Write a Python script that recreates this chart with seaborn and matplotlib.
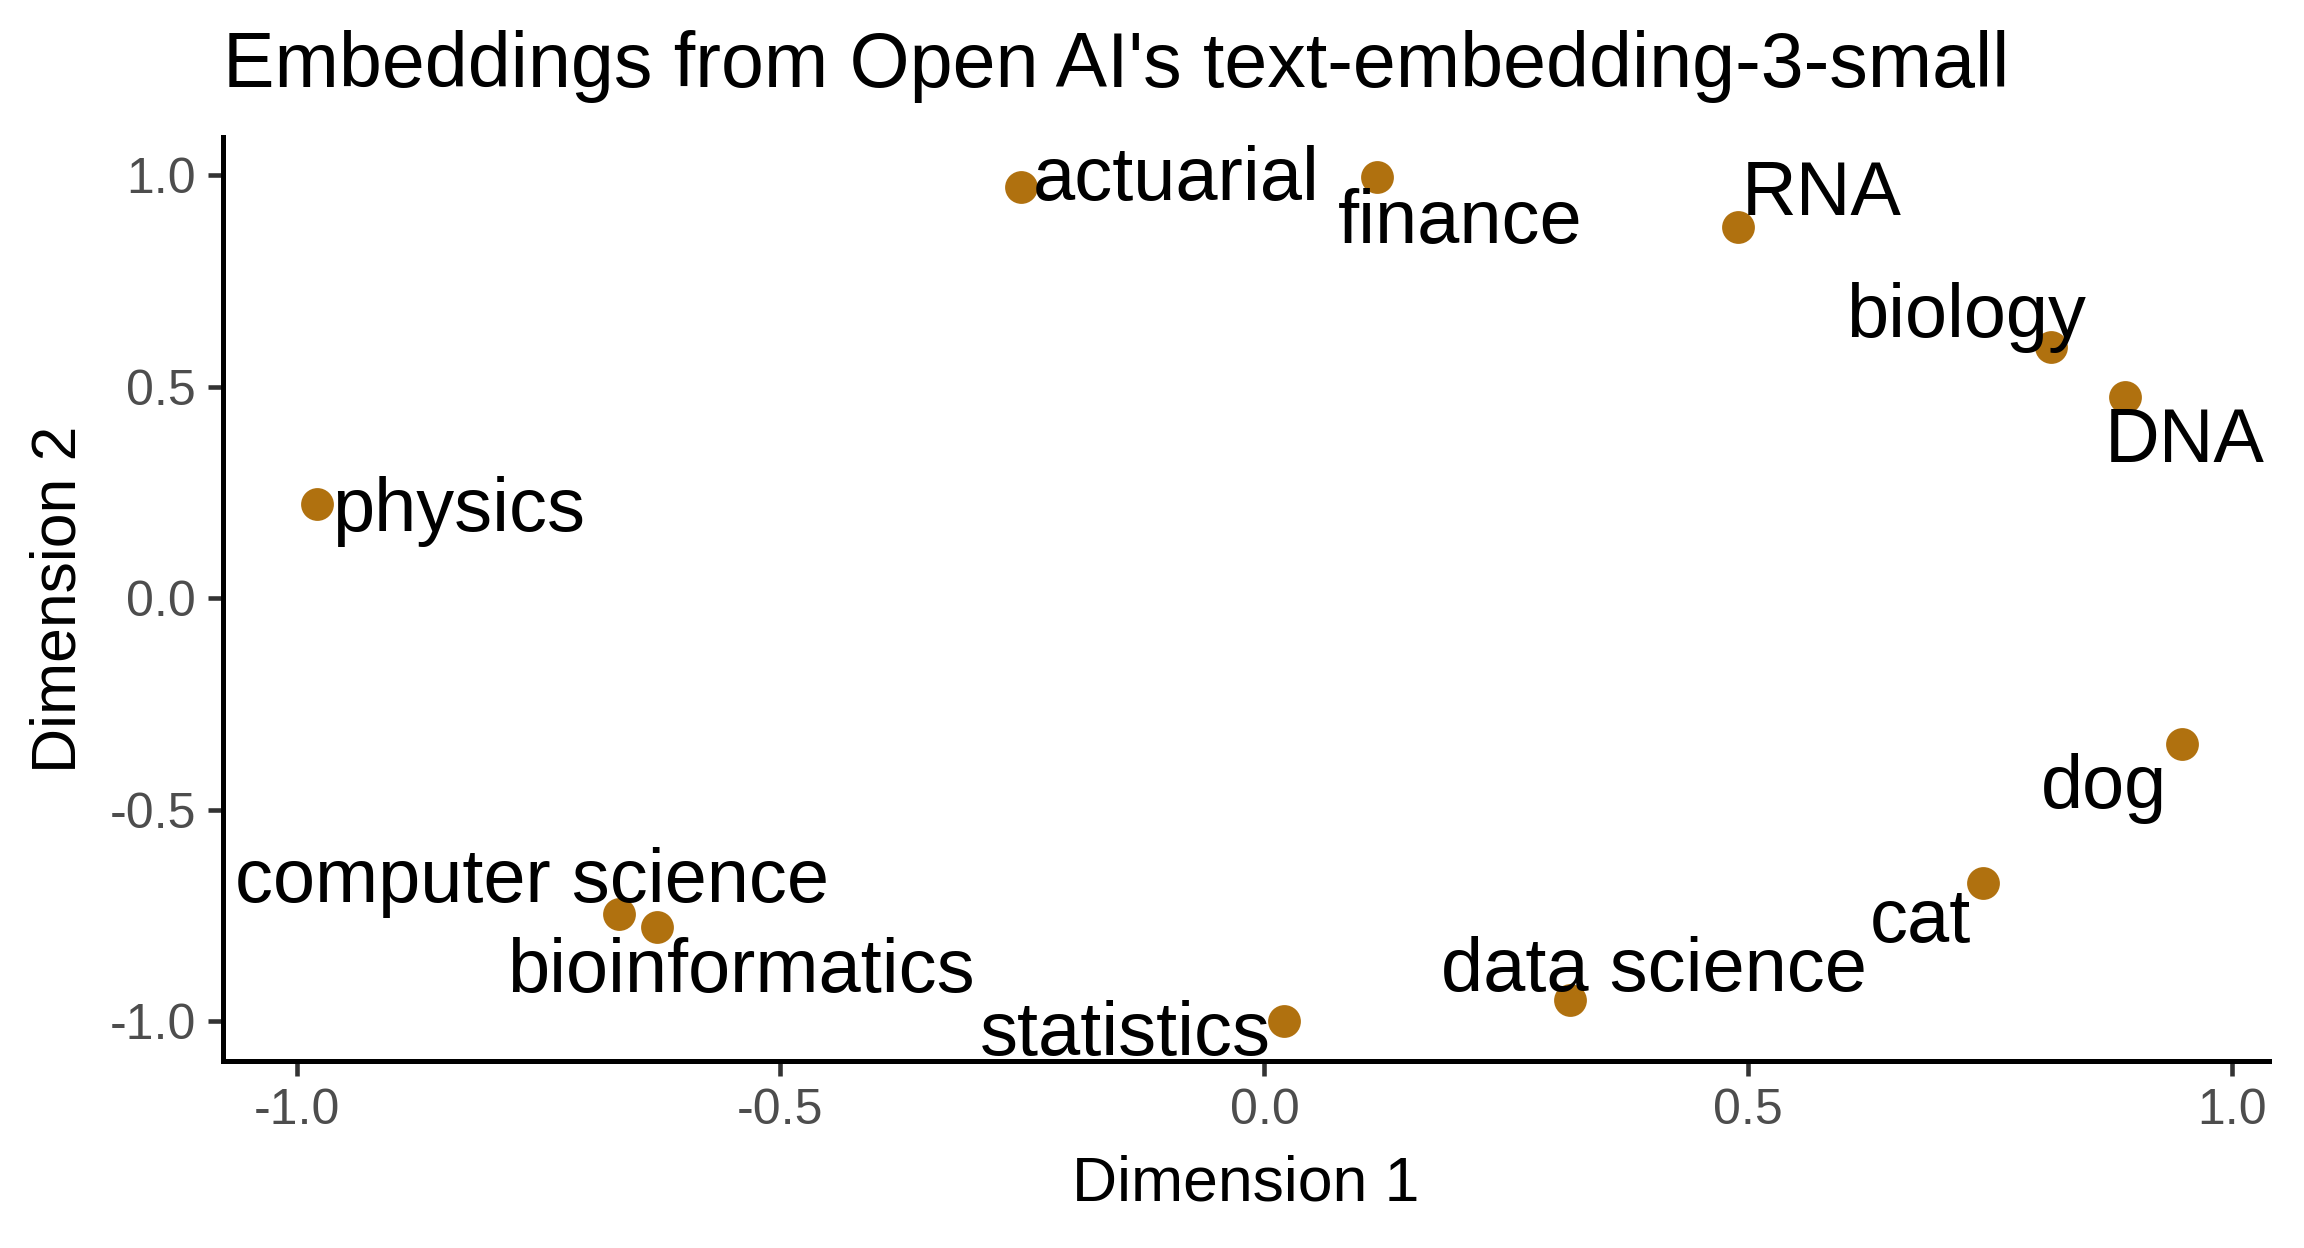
from matplotlib import pyplot as plt
import seaborn as sns
import pandas as pd

# 数据：
words = ["actuarial", "finance", "RNA", "biology", "DNA", "physics",
         "dog", "cat", "computer science", "bioinformatics", "statistics", "data science"]
dim1 = [-0.252, 0.116, 0.489, 0.813, 0.889, -0.979,
        0.948, 0.743, -0.667, -0.628, 0.020, 0.316]
dim2 = [0.972, 0.997, 0.878, 0.594, 0.476, 0.222,
        -0.344, -0.674, -0.747, -0.778, -1.000, -0.951]
x_ticks = [-1.0, -0.5, 0.0, 0.5, 1.0]
y_ticks = [-1.0, -0.5, 0.0, 0.5, 1.0]

df = pd.DataFrame({"word": words, "Dimension 1": dim1, "Dimension 2": dim2})

# 标签相对点的偏移（布局用）：
label_offsets = {
    "actuarial": (0.161, 0.015), "finance": (0.086, -0.111), "RNA": (0.087, 0.074),
    "biology": (-0.088, 0.070), "DNA": (0.062, -0.108), "physics": (0.146, -0.017),
    "dog": (-0.080, -0.105), "cat": (-0.065, -0.093), "computer science": (-0.090, 0.074),
    "bioinformatics": (0.087, -0.107), "statistics": (-0.164, -0.034), "data science": (0.087, 0.069),
}

sns.set_theme(style="white")
plt.rcParams['font.family'] = ['Liberation Sans', 'DejaVu Sans']

fig = plt.figure(figsize=(7.68, 4.16), dpi=300)
ax = fig.add_axes([0.0968, 0.150, 0.888, 0.740])

sns.scatterplot(data=df, x="Dimension 1", y="Dimension 2", ax=ax,
                color="#B0710F", s=62, linewidth=0, zorder=3)

for w, x, y in zip(words, dim1, dim2):
    dx, dy = label_offsets[w]
    ax.text(x + dx, y + dy, w, ha="center", va="center", fontsize=18.2, color="black", zorder=4)

ax.set_xlim(-1.076, 1.038)
ax.set_ylim(-1.094, 1.09)
ax.set_xticks(x_ticks)
ax.set_yticks(y_ticks)
ax.set_xticklabels([f"{t:.1f}" for t in x_ticks])
ax.set_yticklabels([f"{t:.1f}" for t in y_ticks])
ax.tick_params(axis="both", which="both", length=3.5, width=1.1, color="#333333",
               labelsize=12, labelcolor="#4D4D4D", direction="out", bottom=True, left=True, pad=3)
sns.despine(ax=ax)
for side in ["left", "bottom"]:
    ax.spines[side].set_color("black")
    ax.spines[side].set_linewidth(1.2)

ax.set_xlabel("Dimension 1", fontsize=15, color="black", labelpad=5)
ax.set_ylabel("Dimension 2", fontsize=15, color="black", labelpad=5)
ax.set_title("Embeddings from Open AI's text-embedding-3-small", fontsize=18.5,
             loc="left", pad=12, color="black")

fig.savefig("out.png", dpi=300)
